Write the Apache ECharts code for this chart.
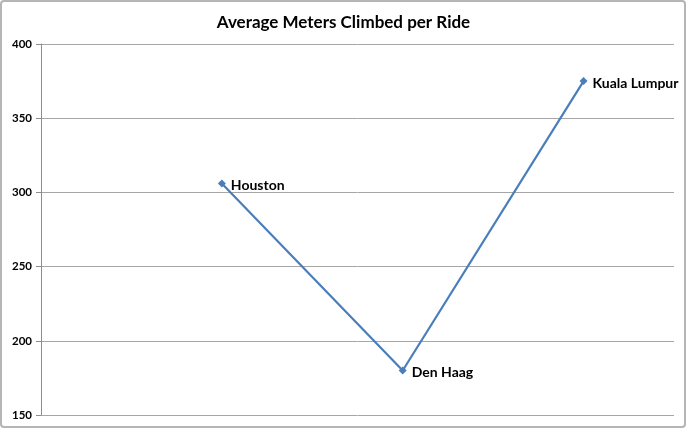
<!DOCTYPE html>
<html><head><meta charset="utf-8">
<script src="https://cdn.jsdelivr.net/npm/echarts@6/dist/echarts.min.js"></script>
<style>html,body{margin:0;padding:0;background:#fff}#c{width:687px;height:429px}</style>
</head><body><div id="c"></div>
<script>
var cities = ['Houston', 'Den Haag', 'Kuala Lumpur'];
var meters = [306, 180, 375];
var yTicks = [150, 200, 250, 300, 350, 400];

var data = cities.map(function (c, i) { return { name: c, value: [i + 1, meters[i]] }; });
var chart = echarts.init(document.getElementById('c'));
chart.setOption({
  backgroundColor: '#fff',
  animation: false,
  title: {
    text: 'Average Meters Climbed per Ride', left: 'center', top: 9,
    textStyle: { fontFamily: 'Lato, "Open Sans", sans-serif', fontWeight: 'bold', fontSize: 17, color: '#000' }
  },
  graphic: [{
    type: 'rect', shape: { x: 1, y: 1, width: 684, height: 426, r: 3 },
    style: { fill: 'none', stroke: '#b5b5b5', lineWidth: 2 }, silent: true
  }],
  grid: { left: 41, right: 13, top: 44, bottom: 14 },
  xAxis: {
    type: 'value', min: 0, max: 3.5,
    axisLine: { show: false }, axisTick: { show: false }, axisLabel: { show: false }, splitLine: { show: false }
  },
  yAxis: {
    type: 'value', min: yTicks[0], max: yTicks[yTicks.length - 1], interval: 50,
    axisLine: { show: true, lineStyle: { color: '#8c8c8c', width: 1 } },
    axisTick: { show: true, length: 5, lineStyle: { color: '#8c8c8c' } },
    axisLabel: { margin: 9, fontFamily: 'Lato, "Open Sans", sans-serif', fontWeight: 'bold', fontSize: 11.5, color: '#000' },
    splitLine: { show: true, lineStyle: { color: '#a6a6a6', width: 1 } }
  },
  series: [{
    type: 'line', data: data,
    symbol: 'diamond', symbolSize: 8,
    lineStyle: { color: '#4a7ebb', width: 2.2 },
    itemStyle: { color: '#4a7ebb' },
    label: {
      show: true, position: 'right', distance: 5,
      formatter: function (p) { return p.name; },
      fontFamily: 'Lato, "Open Sans", sans-serif', fontWeight: 'bold', fontSize: 14, color: '#000', offset: [0, 2]
    }
  }]
});
</script></body></html>
